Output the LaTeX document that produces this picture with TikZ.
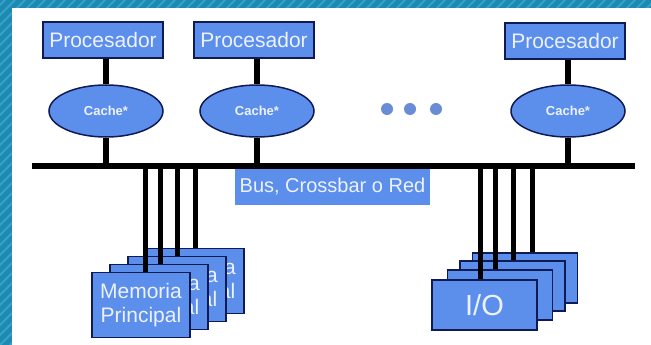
\documentclass[tikz,border=0pt]{standalone}
\usepackage{fontspec}
\setmainfont{Liberation Sans}
\usetikzlibrary{shapes.geometric}
\definecolor{boxblue}{RGB}{92,142,236}
\definecolor{boxline}{RGB}{16,26,84}
\definecolor{boxtext}{RGB}{236,242,255}
\definecolor{dotblue}{RGB}{104,140,214}
\definecolor{frameteal}{RGB}{28,138,178}
\definecolor{framestripe}{RGB}{56,162,198}
\tikzset{
  procbox/.style={draw=boxline, line width=1.5pt, fill=boxblue, text=boxtext,
    minimum width=120pt, minimum height=36pt, inner sep=0pt,
    font=\fontsize{21}{24}\selectfont},
  cachenode/.style={ellipse, draw=boxline, line width=1.5pt, fill=boxblue, text=boxtext,
    minimum width=114pt, minimum height=52pt, inner sep=0pt,
    font=\fontsize{13}{15}\selectfont\bfseries},
  membox/.style={draw=boxline, line width=1.5pt, fill=boxblue, text=boxtext,
    minimum width=98pt, minimum height=65pt, inner sep=0pt, align=center,
    font=\fontsize{21}{24}\selectfont},
  iobox/.style={draw=boxline, line width=1.5pt, fill=boxblue, text=boxtext,
    minimum width=105pt, minimum height=50pt, inner sep=0pt,
    font=\fontsize{29}{32}\selectfont},
  wire/.style={line width=6pt},
  link/.style={line width=5pt},
}
\begin{document}
\begin{tikzpicture}[x=1pt,y=-1pt]
\useasboundingbox (0,0) rectangle (651,345);
\begin{scope}
\clip (0,0) rectangle (651,345);
\fill[frameteal] (0,0) rectangle (651,345);
\foreach \s in {-350,-340,...,650}
  \draw[framestripe, line width=2pt] (\s,345) -- (\s+345,0);
\fill[white] (12,8) rectangle (651,345);
\end{scope}
% processors and caches
\node[procbox] (proc1) at (103,40){Procesador};
\node[procbox] (proc2) at (254,40){Procesador};
\node[procbox] (proc3) at (565,41){Procesador};
\node[cachenode] (cache1) at (106,111){Cache*};
\node[cachenode] (cache2) at (257,111){Cache*};
\node[cachenode] (cache3) at (568,111){Cache*};
\foreach \i/\x in {1/387,2/410,3/436}
  \node[circle, fill=dotblue, minimum size=12pt, inner sep=0pt] (dot\i) at (\x,109){};
% bus
\node[fill=boxblue, text=boxtext, minimum width=195pt, minimum height=37pt, inner sep=0pt,
  font=\fontsize{20}{24}\selectfont] (buslabel) at (332.5,186.5){Bus, Crossbar o Red};
\coordinate (busL) at (32,166);
\coordinate (busR) at (635,166);
\draw[wire] (busL) -- (busR);
\foreach \i in {1,2,3}{
  \draw[wire] (proc\i.south -| cache\i) -- (cache\i.north);
  \draw[wire] (cache\i.south) -- (cache\i |- busL);
}
% memory modules
\node[membox] (mem4) at (195,281){Memoria\\Principal};
\node[membox] (mem3) at (177,289){Memoria\\Principal};
\node[membox] (mem2) at (159,297){Memoria\\Principal};
\node[membox] (mem1) at (141,305){Memoria\\Principal};
\foreach \i/\x in {1/145,2/160,3/177,4/195}{
  \coordinate (mtap\i) at (\x,166);
  \draw[link] (mtap\i) -- (mtap\i |- mem\i.north);
}
% i/o modules
\node[iobox] (io4) at (525,278){};
\node[iobox] (io3) at (512.5,286){};
\node[iobox] (io2) at (500,295){};
\node[iobox] (io1) at (484.5,305){I/O};
\foreach \i/\x in {1/480,2/495,3/513,4/532}{
  \coordinate (iotap\i) at (\x,166);
  \draw[link] (iotap\i) -- (iotap\i |- io\i.north);
}
\end{tikzpicture}
\end{document}
